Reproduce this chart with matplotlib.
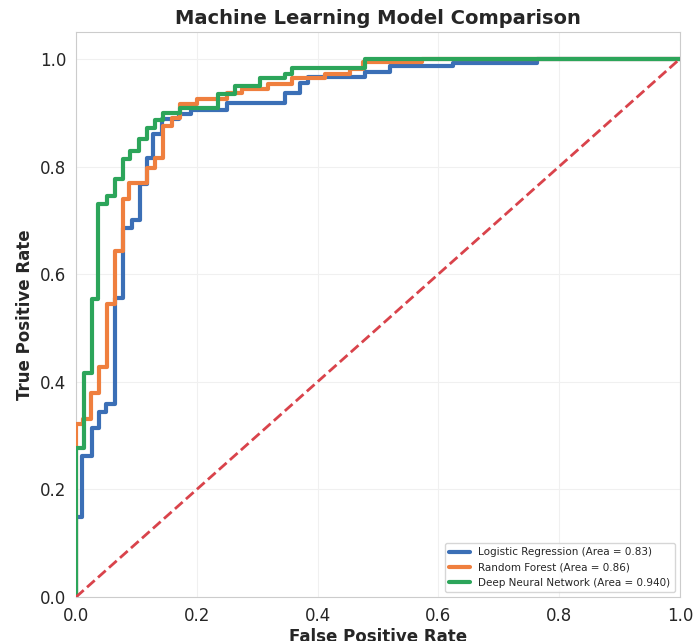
import matplotlib
matplotlib.use("Agg")
import matplotlib.pyplot as plt
import seaborn as sns

# ROC curve points (fpr, tpr)
lr_fpr = [0, 0, 0.01, 0.01, 0.026, 0.026, 0.038, 0.038, 0.05, 0.05, 0.065, 0.065,
          0.078, 0.078, 0.092, 0.092, 0.106, 0.106, 0.118, 0.118, 0.128, 0.128,
          0.142, 0.142, 0.17, 0.17, 0.19, 0.19, 0.25, 0.25, 0.346, 0.346, 0.371,
          0.371, 0.385, 0.385, 0.478, 0.478, 0.52, 0.52, 0.624, 0.624, 0.763, 0.763, 1.0]
lr_tpr = [0, 0.148, 0.148, 0.262, 0.262, 0.314, 0.314, 0.343, 0.343, 0.358, 0.358, 0.555,
          0.555, 0.685, 0.685, 0.70, 0.70, 0.768, 0.768, 0.815, 0.815, 0.86,
          0.86, 0.888, 0.888, 0.897, 0.897, 0.905, 0.905, 0.918, 0.918, 0.937, 0.937,
          0.955, 0.955, 0.966, 0.966, 0.976, 0.976, 0.986, 0.986, 0.992, 0.992, 1.0, 1.0]

rf_fpr = [0, 0, 0.012, 0.012, 0.025, 0.025, 0.038, 0.038, 0.051, 0.051, 0.065, 0.065,
          0.077, 0.077, 0.087, 0.087, 0.117, 0.117, 0.131, 0.131, 0.144, 0.144,
          0.159, 0.159, 0.172, 0.172, 0.2, 0.2, 0.25, 0.25, 0.275, 0.275, 0.318,
          0.318, 0.357, 0.357, 0.412, 0.412, 0.454, 0.454, 0.475, 0.475, 0.573, 0.573, 1.0]
rf_tpr = [0, 0.322, 0.322, 0.33, 0.33, 0.38, 0.38, 0.427, 0.427, 0.545, 0.545, 0.644,
          0.644, 0.74, 0.74, 0.77, 0.77, 0.798, 0.798, 0.815, 0.815, 0.876,
          0.876, 0.891, 0.891, 0.916, 0.916, 0.926, 0.926, 0.937, 0.937, 0.944, 0.944,
          0.953, 0.953, 0.965, 0.965, 0.972, 0.972, 0.981, 0.981, 0.994, 0.994, 1.0, 1.0]

dnn_fpr = [0, 0, 0.013, 0.013, 0.026, 0.026, 0.037, 0.037, 0.051, 0.051, 0.065, 0.065,
           0.078, 0.078, 0.09, 0.09, 0.104, 0.104, 0.118, 0.118, 0.131, 0.131,
           0.144, 0.144, 0.172, 0.172, 0.235, 0.235, 0.263, 0.263, 0.305, 0.305,
           0.346, 0.346, 0.357, 0.357, 0.478, 0.478, 1.0]
dnn_tpr = [0, 0.277, 0.277, 0.417, 0.417, 0.553, 0.553, 0.731, 0.731, 0.746, 0.746, 0.777,
           0.777, 0.814, 0.814, 0.829, 0.829, 0.852, 0.852, 0.872, 0.872, 0.886,
           0.886, 0.9, 0.9, 0.909, 0.909, 0.935, 0.935, 0.95, 0.95, 0.964,
           0.964, 0.972, 0.972, 0.984, 0.984, 1.0, 1.0]

labels = ["Logistic Regression (Area = 0.83)",
          "Random Forest (Area = 0.86)",
          "Deep Neural Network (Area = 0.940)"]
colors = ["#3b6fb6", "#ef7f3e", "#2ca55a"]

sns.set_style("whitegrid")
plt.rcParams["font.family"] = ["DejaVu Sans"]

fig = plt.figure(figsize=(6.93, 6.41), dpi=100)
ax = fig.add_axes([0.1097, 0.0686, 0.8713, 0.8814])

curves = [(lr_fpr, lr_tpr), (rf_fpr, rf_tpr), (dnn_fpr, dnn_tpr)]
for (x, y), lab, c in zip(curves, labels, colors):
    ax.plot(x, y, color=c, lw=3, label=lab, zorder=3)

ax.plot([0, 1], [0, 1], color="#d9434b", lw=2, ls="--", zorder=3)

ax.set_xlim(0, 1)
ax.set_ylim(0, 1.05)
ax.set_xticks([0, 0.2, 0.4, 0.6, 0.8, 1.0])
ax.set_yticks([0, 0.2, 0.4, 0.6, 0.8, 1.0])
ax.tick_params(labelsize=12)
ax.grid(color="#f0f0f0", lw=0.8)
for s in ax.spines.values():
    s.set_color("#cccccc")

ax.set_xlabel("False Positive Rate", fontsize=12, fontweight="bold", labelpad=2)
ax.set_ylabel("True Positive Rate", fontsize=12, fontweight="bold")
ax.set_title("Machine Learning Model Comparison", fontsize=14, fontweight="bold", pad=6)
ax.legend(loc="lower right", fontsize=7.5, frameon=True)

fig.savefig("out.png", dpi=100)
